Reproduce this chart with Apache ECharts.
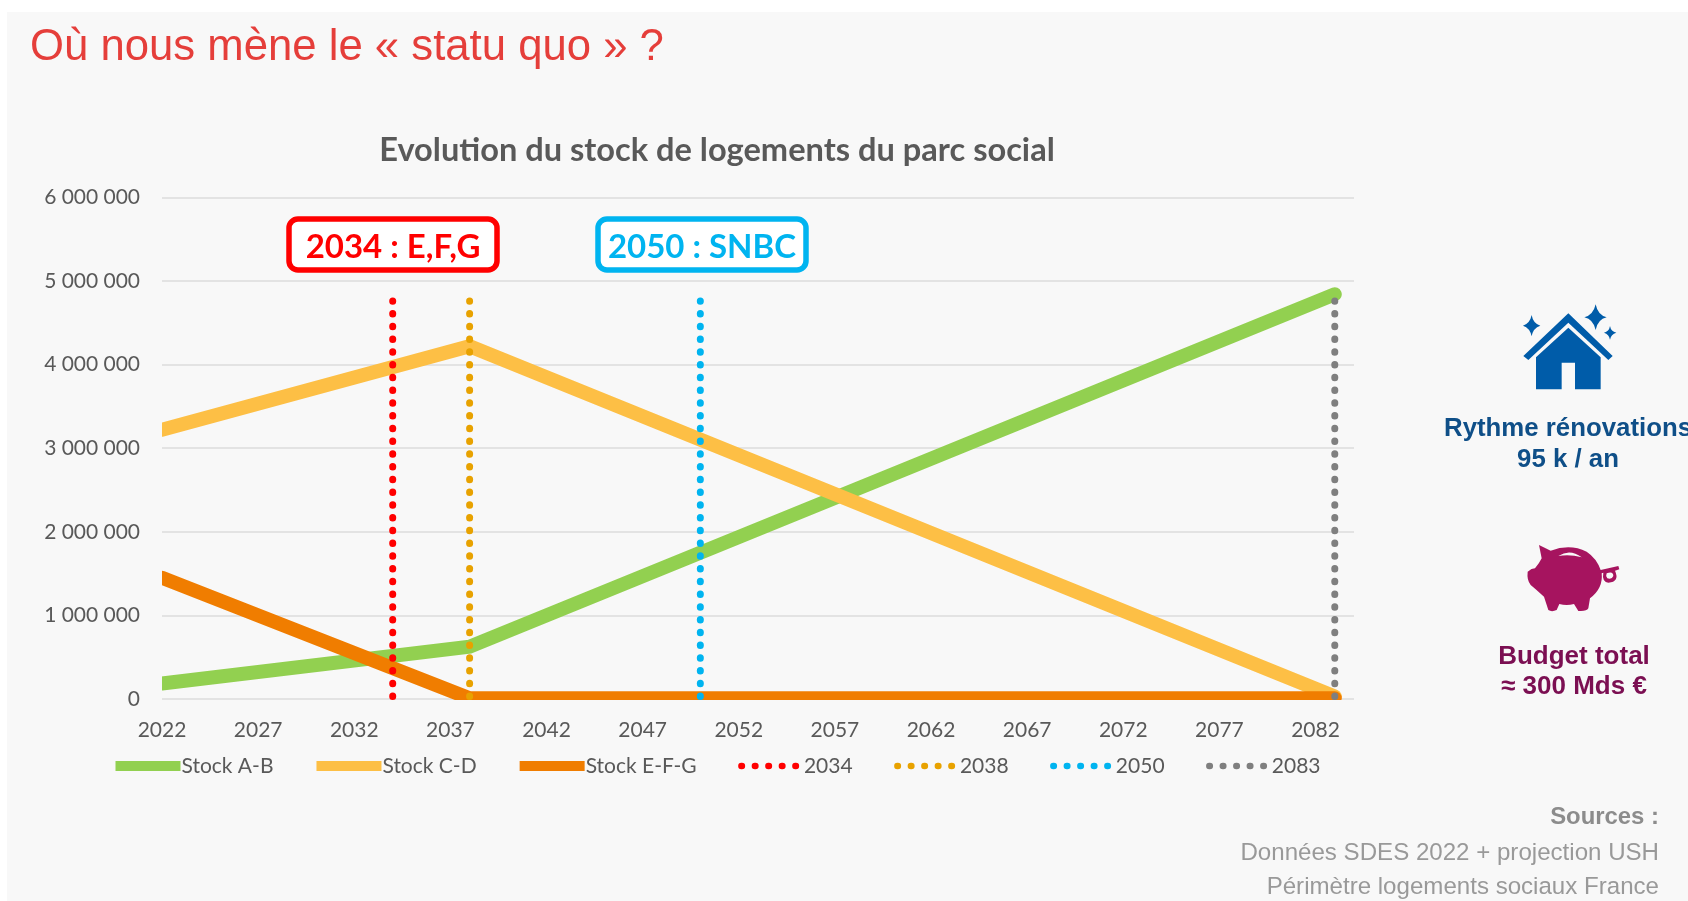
<!DOCTYPE html>
<html><head><meta charset="utf-8">
<style>html,body{margin:0;padding:0;background:#fff}#c{width:1688px;height:901px}</style>
<script src="https://cdn.jsdelivr.net/npm/echarts@6/dist/echarts.min.js"></script>
</head><body><div id="c"></div>
<script>
const categories = [];
for (let y = 2022; y <= 2084; y++) categories.push(String(y));
const yTickLabels = ['0','1\u2005000\u2005000','2\u2005000\u2005000','3\u2005000\u2005000','4\u2005000\u2005000','5\u2005000\u2005000','6\u2005000\u2005000'];
const stockAB = [['2022',185000],['2038',625000],['2083',4840000]];
const stockCD = [['2022',3220000],['2038',4220000],['2083',30000]];
const stockEFG = [['2022',1450000],['2038',10000],['2083',10000]];
const line2034 = [['2034',0],['2034',4760000]];
const line2038 = [['2038',0],['2038',4760000]];
const line2050 = [['2050',0],['2050',4760000]];
const line2083 = [['2083',0],['2083',4760000]];

const LAT = 'Lato, "Noto Sans", sans-serif', ARI = '"Liberation Sans", Arial, sans-serif';
const solid = (name, data, color) => ({name, type:'line', data, symbol:'none', silent:true, clip:true,
  lineStyle:{color, width:14, cap:'round', join:'miter'}, itemStyle:{color}});
const dotted = (name, data, color) => ({name, type:'line', data, symbol:'none', silent:true, clip:true,
  lineStyle:{color, width:7, type:[0.5,12.25], dashOffset:10.25, cap:'round'}, itemStyle:{color}});
const solidKey = name => ({name, lineStyle:{width:10, cap:'butt'}});
const dottedKey = name => ({name, lineStyle:{width:6.5, type:[0.5,13], dashOffset:10, cap:'round'}});
const txt = (x,y,t,font,fill,align) => ({type:'text', x, y, silent:true, z:20, style:{text:t, font, fill, align:align||'center', verticalAlign:'middle'}});

const houseC = '#005ca9', pigC = '#a6145f', bg = '#f8f8f8';
echarts.graphic.registerShape('houseIcon', echarts.graphic.extendPath('M505 100 L638 228 L625 240 L505 128 L385 240 L370 228 Z M505 143 L602 232 L602 328 L525 328 L525 248 L485 248 L485 328 L408 328 L408 232 Z M587 73 Q593 105 620 112 Q593 118 587 150 Q580 118 553 112 Q580 105 587 73 Z M395 105 Q399 130 421 137 Q399 144 395 169 Q390 144 369 137 Q390 130 395 105 Z M630 138 Q633 155 649 158 Q633 162 630 179 Q627 162 612 158 Q627 155 630 138 Z', {}));
echarts.graphic.registerShape('pigIcon', echarts.graphic.extendPath('M417 795 L452 812 Q510 790 560 815 Q590 835 602 870 L655 858 L658 868 L645 872 Q660 905 625 908 Q605 905 610 878 L605 880 Q610 925 570 955 L565 985 Q560 995 535 993 L522 972 Q500 978 478 972 L470 990 Q455 997 445 990 L432 950 Q410 930 392 915 Q380 900 383 875 Q395 865 405 865 Q418 850 425 835 Z', {}));
echarts.graphic.registerShape('pigHoles', echarts.graphic.extendPath('M475 828 Q510 805 545 832 Q510 822 475 828 Z M620 880 Q640 872 640 888 Q635 900 622 895 Q616 888 620 880 Z', {}));
const icon = (type, fill, z) => ({type, x:1400, y:280, scaleX:1/3, scaleY:1/3, z:z||20, silent:true, shape:{}, style:{fill}});

const chart = echarts.init(document.getElementById('c'), null, {renderer:'canvas'});
chart.setOption({
  animation:false,
  backgroundColor:'#fff',
  grid:{left:162, top:197.3, width:1192, height:501.7, containLabel:false},
  title:{text:'Evolution du stock de logements du parc social', left:712, top:129, textAlign:'center',
    textStyle:{fontFamily:LAT, fontSize:32.6, fontWeight:'bold', color:'#595959'}},
  legend:{left:105.5, top:750.5, itemWidth:65, itemHeight:12, itemGap:38,
    itemStyle:{opacity:0},
    lineStyle:{width:'inherit', type:'inherit', cap:'inherit', join:'inherit'},
    textStyle:{fontFamily:LAT, fontSize:21, color:'#595959', padding:[0,0,0,-4]},
    data:[solidKey('Stock A-B'),solidKey('Stock C-D'),solidKey('Stock E-F-G'),dottedKey('2034'),dottedKey('2038'),dottedKey('2050'),dottedKey('2083')]},
  xAxis:{type:'category', data:categories, boundaryGap:false,
    axisLine:{show:false}, axisTick:{show:false}, splitLine:{show:false},
    axisLabel:{interval:4, fontFamily:LAT, fontSize:21, color:'#595959', margin:21}},
  yAxis:{type:'value', min:0, max:6000000, interval:1000000,
    axisLine:{show:false}, axisTick:{show:false},
    splitLine:{lineStyle:{color:'#dcdcdc', width:1.5}},
    axisLabel:{fontFamily:LAT, fontSize:21, color:'#595959', margin:22, formatter:v=>yTickLabels[Math.round(v/1000000)]}},
  series:[
    solid('Stock A-B', stockAB, '#92d050'),
    solid('Stock C-D', stockCD, '#fdbf45'),
    solid('Stock E-F-G', stockEFG, '#f07d00'),
    dotted('2034', line2034, '#ff0000'),
    dotted('2038', line2038, '#e8a200'),
    dotted('2050', line2050, '#00b4f0'),
    dotted('2083', line2083, '#7f7f7f')
  ],
  graphic:[
    {type:'rect', z:-10, silent:true, shape:{x:7,y:12,width:1681,height:889}, style:{fill:bg}},
    {type:'rect', z:10, silent:true, shape:{x:145,y:400,width:17,height:300}, style:{fill:bg}},
    {type:'rect', z:10, silent:true, shape:{x:162,y:700,width:1192,height:8}, style:{fill:bg}},
    txt(30,48,'Où nous mène le « statu quo » ?','43.7px '+ARI,'#e53e3a','left'),
    {type:'rect', z:18, silent:true, shape:{x:289,y:219,width:208,height:51,r:9}, style:{fill:'#fff',stroke:'#ff0000',lineWidth:5.5}},
    txt(393,247,'2034 : E,F,G','bold 33px '+LAT,'#ff0000'),
    {type:'rect', z:18, silent:true, shape:{x:598,y:219,width:208,height:51,r:9}, style:{fill:'#fff',stroke:'#00b4f0',lineWidth:5.5}},
    txt(702,247,'2050 : SNBC','bold 33px '+LAT,'#00b4f0'),
    icon('houseIcon', houseC),
    txt(1568,429,'Rythme rénovations','bold 25.8px '+ARI,'#0f4f88'),
    txt(1568,459.5,'95 k / an','bold 25.8px '+ARI,'#0f4f88'),
    icon('pigIcon', pigC),
    icon('pigHoles', bg, 21),
    txt(1574,656.5,'Budget total','bold 26px '+ARI,'#7b0f52'),
    txt(1574,687,'≈ 300 Mds €','bold 26px '+ARI,'#7b0f52'),
    txt(1659,817.5,'Sources :','bold 23.9px '+ARI,'#8c8c8c','right'),
    txt(1659,853.5,'Données SDES 2022 + projection USH','24.1px '+ARI,'#999999','right'),
    txt(1659,887,'Périmètre logements sociaux France','24.1px '+ARI,'#999999','right')
  ]
});
</script></body></html>
